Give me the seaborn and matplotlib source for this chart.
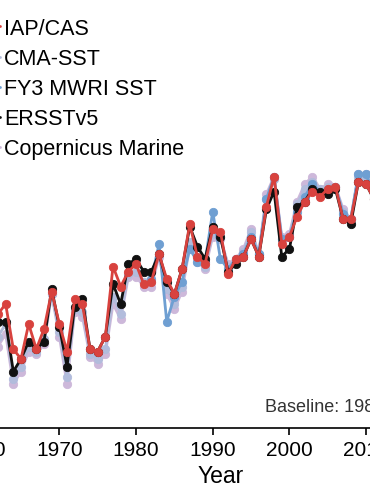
import matplotlib
matplotlib.use("Agg")
import matplotlib.pyplot as plt
import seaborn as sns
import pandas as pd
from matplotlib.lines import Line2D

years = list(range(1962, 2012))

iap_cas = [-0.36, -0.32, -0.50, -0.54, -0.40, -0.50, -0.42, -0.27, -0.40, -0.51,
           -0.30, -0.32, -0.50, -0.51, -0.45, -0.17, -0.25, -0.19, -0.16, -0.24,
           -0.23, -0.12, -0.22, -0.28, -0.18, 0.00, -0.13, -0.16, -0.02, -0.03,
           -0.20, -0.14, -0.13, -0.06, -0.13, 0.07, 0.19, -0.08, -0.05, 0.03,
           0.09, 0.13, 0.11, 0.14, 0.15, 0.02, 0.02, 0.17, 0.16, 0.10]

cma_sst = [-0.45, -0.40, -0.62, -0.57, -0.49, -0.51, -0.46, -0.28, -0.43, -0.61,
           -0.34, -0.35, -0.52, -0.54, -0.50, -0.29, -0.36, -0.20, -0.19, -0.23,
           -0.23, -0.12, -0.26, -0.32, -0.25, -0.07, -0.13, -0.17, -0.04, -0.05,
           -0.17, -0.14, -0.11, -0.03, -0.12, 0.10, 0.18, -0.06, -0.05, 0.08,
           0.14, 0.17, 0.14, 0.15, 0.15, 0.05, 0.02, 0.19, 0.19, 0.11]

fy3_years = list(range(1982, 2012))
fy3_mwri = [-0.22, -0.08, -0.39, -0.29, -0.23, -0.10, -0.15, -0.15, 0.05, -0.14,
            -0.18, -0.14, -0.12, -0.05, -0.12, 0.10, 0.19, -0.06, -0.05, 0.05,
            0.11, 0.16, 0.13, 0.14, 0.15, 0.04, 0.02, 0.20, 0.20, 0.12]

ersstv5 = [-0.39, -0.39, -0.59, -0.54, -0.47, -0.50, -0.47, -0.26, -0.41, -0.57,
           -0.33, -0.30, -0.50, -0.51, -0.45, -0.24, -0.32, -0.16, -0.14, -0.19,
           -0.19, -0.12, -0.23, -0.28, -0.18, -0.01, -0.09, -0.14, -0.01, -0.05,
           -0.19, -0.16, -0.13, -0.06, -0.13, 0.06, 0.13, -0.13, -0.10, 0.07,
           0.09, 0.14, 0.13, 0.12, 0.14, 0.02, 0.00, 0.17, 0.16, 0.10]

copernicus = [-0.49, -0.44, -0.64, -0.59, -0.51, -0.52, -0.48, -0.28, -0.45, -0.64,
              -0.35, -0.37, -0.53, -0.56, -0.52, -0.32, -0.38, -0.21, -0.21, -0.25,
              -0.25, -0.13, -0.28, -0.34, -0.27, -0.09, -0.15, -0.18, -0.05, -0.06,
              -0.16, -0.14, -0.10, -0.02, -0.12, 0.12, 0.19, -0.05, -0.04, 0.09,
              0.16, 0.19, 0.14, 0.16, 0.15, 0.06, 0.02, 0.20, 0.20, 0.12]

legend_order = ["IAP/CAS", "CMA-SST", "FY3 MWRI SST", "ERSSTv5", "Copernicus Marine"]
colors = {"IAP/CAS": "#d8423e", "CMA-SST": "#b2bcdc", "FY3 MWRI SST": "#6f9fd2",
          "ERSSTv5": "#111111", "Copernicus Marine": "#cdb8da"}
baseline_text = "Baseline: 1981\u20132010"

frames = [
    pd.DataFrame({"Year": years, "val": copernicus, "src": "Copernicus Marine"}),
    pd.DataFrame({"Year": years, "val": cma_sst, "src": "CMA-SST"}),
    pd.DataFrame({"Year": fy3_years, "val": fy3_mwri, "src": "FY3 MWRI SST"}),
    pd.DataFrame({"Year": years, "val": ersstv5, "src": "ERSSTv5"}),
    pd.DataFrame({"Year": years, "val": iap_cas, "src": "IAP/CAS"}),
]

sns.set_style("ticks")
plt.rcParams["font.family"] = ["Liberation Sans", "DejaVu Sans"]
plt.rcParams["text.color"] = "black"
plt.rcParams["axes.labelcolor"] = "black"
plt.rcParams["xtick.color"] = "black"
plt.rcParams["axes.edgecolor"] = "black"

W, H = 370, 489
fig = plt.figure(figsize=(W / 100, H / 100), dpi=100)
# axes extends beyond the visible canvas (cropped look)
x_left_px, x_right_px = -32.7, 473.5
y_bottom_px, y_top_px = 429, -10
ax = fig.add_axes([x_left_px / W, (H - y_bottom_px) / H,
                   (x_right_px - x_left_px) / W, (y_bottom_px - y_top_px) / H])

for i, df in enumerate(frames):
    name = df["src"].iloc[0]
    sns.lineplot(data=df, x="Year", y="val", ax=ax, color=colors[name],
                 marker="o", markersize=6, linewidth=2.0,
                 markeredgewidth=0.6, markeredgecolor=colors[name],
                 zorder=2 + i, legend=False)

ax.set_xlim(1958, 2024)
ax.set_ylim(-0.816, 0.94)
ax.set_xticks([1960, 1970, 1980, 1990, 2000, 2010, 2020])
ax.tick_params(axis="x", labelsize=15, length=5, width=1.2, colors="black")
ax.set_xlabel("Year", fontsize=16.5, labelpad=4, color="black")
ax.set_ylabel("")
for s in ["top", "right"]:
    ax.spines[s].set_visible(False)
ax.spines["bottom"].set_linewidth(1.2)
ax.spines["bottom"].set_color("black")

ax.text(0.588, 0.050, baseline_text, transform=ax.transAxes, ha="left",
        va="center", fontsize=13, color="#333333")

handles = [Line2D([0], [0], color=colors[n], marker="o", markersize=6,
                  linewidth=2.0) for n in legend_order]
leg = fig.legend(handles, legend_order, loc="upper left",
                 bbox_to_anchor=(-43 / W, 1 - 19 / H), bbox_transform=fig.transFigure,
                 frameon=False, fontsize=15.5, handlelength=2, handletextpad=0.2,
                 borderpad=0, borderaxespad=0, labelspacing=0.42)
for t in leg.get_texts():
    t.set_color("black")

fig.savefig("out.png", dpi=100)
